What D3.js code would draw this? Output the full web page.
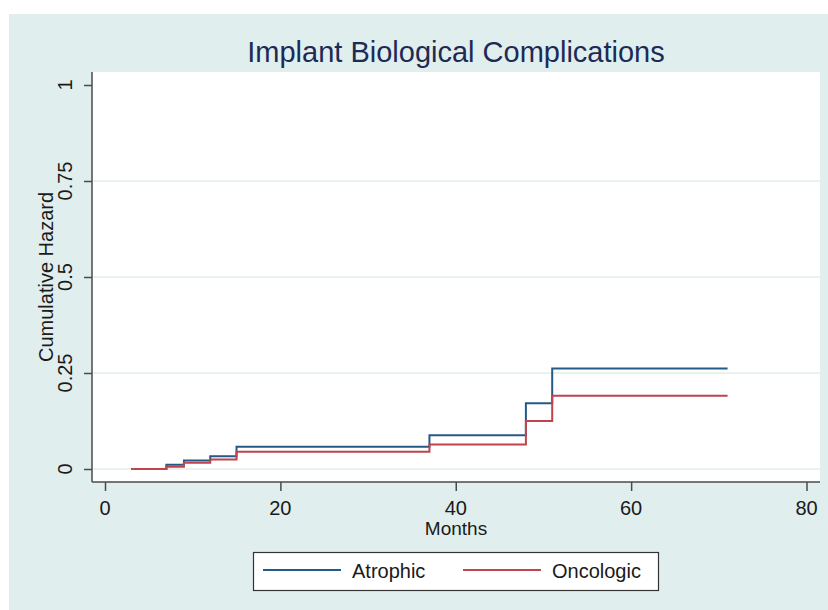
<!DOCTYPE html>
<html>
<head>
<meta charset="utf-8">
<script src="https://cdn.jsdelivr.net/npm/d3@7"></script>
<style>
  body { margin: 0; background: #ffffff; }
  text { font-family: "Liberation Sans", Arial, sans-serif; }
</style>
</head>
<body>
<div id="chart"></div>
<script>
// months where the cumulative hazard steps
var months = [3, 7, 9, 12, 15, 37, 48, 51, 71];
// cumulative hazard per group
var atrophic = [0, 0.011, 0.022, 0.033, 0.058, 0.088, 0.171, 0.262, 0.262];
var oncologic = [0, 0.006, 0.016, 0.025, 0.045, 0.064, 0.125, 0.191, 0.191];
var groups = ["Atrophic", "Oncologic"];
var xTicks = [0, 20, 40, 60, 80];
var yTicks = [0, 0.25, 0.5, 0.75, 1];
var yTickLabels = ["0", "0.25", "0.5", "0.75", "1"];

var colors = { Atrophic: "#245a86", Oncologic: "#c0434d" };

var width = 828, height = 610;
var plot = { left: 92, right: 820, top: 72, bottom: 482 };

var svg = d3.select("#chart").append("svg")
  .attr("width", width)
  .attr("height", height);

// outer graph region
svg.append("rect")
  .attr("x", 9).attr("y", 14)
  .attr("width", width - 9).attr("height", height - 14)
  .attr("fill", "#e1eeee");

// plot region
svg.append("rect")
  .attr("x", plot.left).attr("y", plot.top)
  .attr("width", plot.right - plot.left).attr("height", plot.bottom - plot.top)
  .attr("fill", "#ffffff");

var x = d3.scaleLinear().domain([0, 80]).range([105, 806.5]);
var y = d3.scaleLinear().domain([0, 1]).range([469, 85]);

// grid lines
svg.selectAll("line.grid")
  .data(yTicks.filter(function (d) { return d < 1; }))
  .enter()
  .append("line")
  .attr("class", "grid")
  .attr("x1", plot.left + 1).attr("x2", plot.right)
  .attr("y1", function (d) { return y(d); })
  .attr("y2", function (d) { return y(d); })
  .attr("stroke", "#e3ecec")
  .attr("stroke-width", 1.5);

// y axis
var yAxis = svg.append("g")
  .attr("transform", "translate(" + plot.left + ",0)")
  .call(d3.axisLeft(y).tickValues(yTicks).tickSize(8).tickFormat(""));
yAxis.select(".domain")
  .attr("d", "M0," + plot.top + "V" + plot.bottom)
  .attr("stroke", "#4a4a4a").attr("stroke-width", 1.5);
yAxis.selectAll(".tick line").attr("stroke", "#4a4a4a").attr("stroke-width", 1.5);

svg.selectAll("text.ytick")
  .data(yTicks)
  .enter()
  .append("text")
  .attr("class", "ytick")
  .attr("transform", function (d) { return "translate(72," + y(d) + ") rotate(-90)"; })
  .attr("text-anchor", "middle")
  .attr("font-size", 20)
  .attr("fill", "#1a1a1a")
  .text(function (d, i) { return yTickLabels[i]; });

// x axis
var xAxis = svg.append("g")
  .attr("transform", "translate(0," + plot.bottom + ")")
  .call(d3.axisBottom(x).tickValues(xTicks).tickSize(9).tickFormat(""));
xAxis.select(".domain")
  .attr("d", "M" + plot.left + ",0H" + plot.right)
  .attr("stroke", "#4a4a4a").attr("stroke-width", 1.5);
xAxis.selectAll(".tick line").attr("stroke", "#4a4a4a").attr("stroke-width", 1.5);

svg.selectAll("text.xtick")
  .data(xTicks)
  .enter()
  .append("text")
  .attr("class", "xtick")
  .attr("x", function (d) { return x(d); })
  .attr("y", 515)
  .attr("text-anchor", "middle")
  .attr("font-size", 20)
  .attr("fill", "#1a1a1a")
  .text(function (d) { return d; });

// axis titles
svg.append("text")
  .attr("x", 456).attr("y", 535)
  .attr("text-anchor", "middle")
  .attr("font-size", 19)
  .attr("fill", "#1a1a1a")
  .text("Months");

svg.append("text")
  .attr("transform", "translate(53," + (plot.top + plot.bottom) / 2 + ") rotate(-90)")
  .attr("text-anchor", "middle")
  .attr("font-size", 20)
  .attr("fill", "#1a1a1a")
  .text("Cumulative Hazard");

// title
svg.append("text")
  .attr("x", 456).attr("y", 62)
  .attr("text-anchor", "middle")
  .attr("font-size", 29)
  .attr("fill", "#1c2b55")
  .text("Implant Biological Complications");

// step lines
var series = [
  { name: "Atrophic", values: atrophic },
  { name: "Oncologic", values: oncologic }
];

var line = d3.line()
  .curve(d3.curveStepAfter)
  .x(function (d) { return x(d[0]); })
  .y(function (d) { return y(d[1]); });

svg.selectAll("path.hazard")
  .data(series)
  .enter()
  .append("path")
  .attr("class", "hazard")
  .attr("fill", "none")
  .attr("stroke", function (d) { return colors[d.name]; })
  .attr("stroke-width", 2)
  .attr("d", function (d) { return line(d3.zip(months, d.values)); });

// legend
var legend = svg.append("g");
legend.append("rect")
  .attr("x", 253.5).attr("y", 552.5)
  .attr("width", 405).attr("height", 38)
  .attr("fill", "#ffffff")
  .attr("stroke", "#333333")
  .attr("stroke-width", 1.2);

var legendX = [263, 463];
groups.forEach(function (g, i) {
  legend.append("line")
    .attr("x1", legendX[i]).attr("x2", legendX[i] + 78)
    .attr("y1", 570).attr("y2", 570)
    .attr("stroke", colors[g])
    .attr("stroke-width", 2);
  legend.append("text")
    .attr("x", legendX[i] + 89).attr("y", 578)
    .attr("font-size", 20)
    .attr("fill", "#1a1a1a")
    .text(g);
});
</script>
</body>
</html>
